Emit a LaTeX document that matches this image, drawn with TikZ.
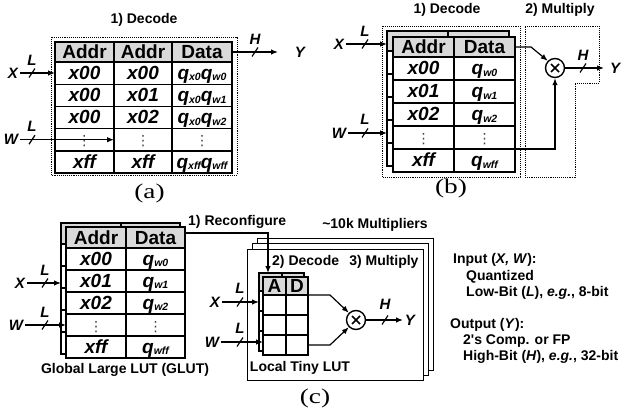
\documentclass[tikz,border=0pt]{standalone}
\usepackage{fontspec}
\setmainfont{Liberation Sans}
\newfontfamily\capfont{Liberation Serif}
\newfontfamily\djv{DejaVu Sans}
\usetikzlibrary{arrows.meta,calc}
\newcommand{\qv}[1]{q\raisebox{-1.5pt}{\fontsize{10.5}{11}\selectfont #1}}
\newcommand{\vd}{{\djv\mdseries\upshape\fontsize{14}{14}\selectfont\color{black!75}⋮}}
\newcommand{\busmark}[1]{\draw[line width=1.2pt] ($#1+(-3,4.5)$) -- ($#1+(3,-4.5)$);}
\newcommand{\capt}[1]{\scalebox{1.3}[1]{#1}}
\tikzset{
  tcell/.style={draw, line width=1.4pt, outer sep=0pt, inner sep=0pt, fill=white,
    text height=12.5pt, text depth=0pt,
    font=\fontsize{19}{21}\selectfont\bfseries\itshape},
  hcell/.style={tcell, fill=gray!30, text height=13pt, font=\fontsize{19}{21}\selectfont\bfseries},
  lbl/.style={inner sep=1pt, font=\fontsize{14}{16}\selectfont\bfseries},
  var/.style={inner sep=2pt, font=\fontsize{15}{17}\selectfont\bfseries\itshape},
  capstyle/.style={inner sep=0pt, font=\capfont\fontsize{21}{23}\selectfont},
  arr/.style={line width=1.2pt, -{Latex[length=7pt,width=5.5pt]}},
  dotbox/.style={line width=0.9pt, densely dotted},
  stackbox/.style={line width=0.9pt, fill=white},
  mult/.style={circle, draw, line width=1.4pt, minimum size=19pt, inner sep=0pt, fill=white,
    path picture={\draw[line width=1.6pt]
      ($(path picture bounding box.center)+(-4,-4)$) -- ($(path picture bounding box.center)+(4,4)$)
      ($(path picture bounding box.center)+(-4,4)$) -- ($(path picture bounding box.center)+(4,-4)$);}},
}
\begin{document}
\begin{tikzpicture}[x=1pt,y=-1pt]
\useasboundingbox (0,0) rectangle (633,415);
% ================= (a) =================
\draw[dotbox] (51,37) rectangle (237,175);
\node[lbl] (aDec) at (144,20) {1) Decode};
\foreach \c/\x/\w/\t in {1/84.5/59/Addr, 2/143/58/Addr, 3/202/60/Data}
  \node[hcell, minimum width=\w, minimum height=20] (a-0-\c) at (\x,52) {\t};
\foreach \r/\y/\ta/\tb/\tc in {1/73.1/x00/x00/{\qv{x0}\qv{w0}}, 2/95.3/x00/x01/{\qv{x0}\qv{w1}},
    3/117.5/x00/x02/{\qv{x0}\qv{w2}}, 4/139.7/{\vd}/{\vd}/{\vd}, 5/161.9/xff/xff/{\qv{xff}\qv{wff}}}{
  \node[tcell, minimum width=59, minimum height=22.2] (a-\r-1) at (84.5,\y) {\ta};
  \node[tcell, minimum width=58, minimum height=22.2] (a-\r-2) at (143,\y) {\tb};
  \node[tcell, minimum width=60, minimum height=22.2] (a-\r-3) at (202,\y) {\tc};
}
\node[var] (aX) at (13,73) {X};
\draw[arr] (aX) -- (aX -| a-1-1.west);
\node[var] (aLx) at (32,60) {L};
\busmark{(32,73)}
\node[var] (aW) at (11,139.7) {W};
\draw[arr] (aW) -- (aW -| a-4-1.east);
\node[var] (aLw) at (32,126) {L};
\busmark{(32,139.7)}
\coordinate (aYe) at (278,52);
\draw[arr] (a-0-3.east) -- (aYe);
\node[var] (aH) at (255,39) {H};
\busmark{(255,52)}
\node[var] (aY) at (300,52) {Y};
\node[capstyle] (aCap) at (149.5,193) {\capt{(a)}};
% ================= (b) =================
\draw[dotbox] (382,26) rectangle (520,177);
\draw[dotbox] (525,26) -- (599,26) -- (599,83) -- (575,83) -- (575,177) -- (525,177) -- cycle;
\node[lbl] (bDec) at (447,10) {1) Decode};
\node[lbl] (bMul) at (560,10) {2) Multiply};
\foreach \c/\x in {1/417.5, 2/478.5}{
  \node[hcell, minimum width=61, minimum height=20] (bb-0-\c) at (\x,41) {};
  \foreach \r/\y in {1/62.5, 2/85.5, 3/108.5, 4/131.5, 5/154.5}
    \node[tcell, minimum width=61, minimum height=23] (bb-\r-\c) at (\x,\y) {};
}
\node[hcell, minimum width=61, minimum height=20] (bf-0-1) at (423.5,47) {Addr};
\node[hcell, minimum width=61, minimum height=20] (bf-0-2) at (484.5,47) {Data};
\foreach \r/\y/\ta/\tb in {1/68.5/x00/{\qv{w0}}, 2/91.5/x01/{\qv{w1}}, 3/114.5/x02/{\qv{w2}},
    4/137.5/{\vd}/{\vd}, 5/160.5/xff/{\qv{wff}}}{
  \node[tcell, minimum width=61, minimum height=23] (bf-\r-1) at (423.5,\y) {\ta};
  \node[tcell, minimum width=61, minimum height=23] (bf-\r-2) at (484.5,\y) {\tb};
}
\node[var] (bX) at (339,44) {X};
\draw[arr] (bX) -- (bX -| bb-0-1.west);
\node[var] (bLx) at (365,31) {L};
\busmark{(365,44)}
\node[var] (bW) at (339,133) {W};
\draw[arr] (bW) -- (bW -| bb-4-1.west);
\node[var] (bLw) at (365,119) {L};
\busmark{(365,133)}
\node[mult] (bM) at (555,68) {};
\draw[arr] (bf-0-2.east) -- ++(16,0) -- (bM.135);
\draw[arr] (bf-4-2.south east) -- (bf-4-2.south east -| bM) -- (bM.south);
\coordinate (bYe) at (604,68);
\draw[arr] (bM) -- (bYe);
\busmark{(583,68)}
\node[var] (bH) at (583,55) {H};
\node[var] (bY) at (615,68) {Y};
\node[capstyle] (bCap) at (451,188) {\capt{(b)}};
% ================= (c) =================
% GLUT
\foreach \c/\x/\w in {1/91/60, 2/150.5/59}{
  \node[hcell, minimum width=\w, minimum height=21] (cgb-0-\c) at (\x,233.5) {};
  \foreach \r/\y in {1/255, 2/277, 3/299, 4/321, 5/343}
    \node[tcell, minimum width=\w, minimum height=22] (cgb-\r-\c) at (\x,\y) {};
}
\node[hcell, minimum width=60, minimum height=21] (cg-0-1) at (96,237.5) {Addr};
\node[hcell, minimum width=59, minimum height=21] (cg-0-2) at (155.5,237.5) {Data};
\foreach \r/\y/\ta/\tb in {1/259/x00/{\qv{w0}}, 2/281/x01/{\qv{w1}}, 3/303/x02/{\qv{w2}},
    4/325/{\vd}/{\vd}, 5/347/xff/{\qv{wff}}}{
  \node[tcell, minimum width=60, minimum height=22] (cg-\r-1) at (96,\y) {\ta};
  \node[tcell, minimum width=59, minimum height=22] (cg-\r-2) at (155.5,\y) {\tb};
}
\node[lbl] (cGl) at (125,370) {Global Large LUT (GLUT)};
\node[var] (cgX) at (20,283) {X};
\draw[arr] (cgX) -- (cgX -| cgb-2-1.west);
\node[var] (cgLx) at (45,270) {L};
\busmark{(45,283)}
\node[var] (cgW) at (16,325) {W};
\draw[arr] (cgW) -- (cg-4-1.west);
\node[var] (cgLw) at (45,312) {L};
\busmark{(45,325)}
% stack of local LUTs
\draw[stackbox] (257,238) rectangle (433,370);
\draw[stackbox] (252,243) rectangle (428,375);
\draw[stackbox] (247,249) rectangle (423,380);
\node[lbl] (cTen) at (375,225) {\textasciitilde10k Multipliers};
\node[lbl, anchor=west] (cDM) at (271,262) {2) Decode\hspace{0.45em} 3) Multiply};
\node[lbl] (cLoc) at (300,368) {Local Tiny LUT};
% tiny LUT
\foreach \c/\x/\w in {1/270.5/23, 2/293/22}{
  \node[hcell, minimum width=\w, minimum height=18] (ctb-0-\c) at (\x,282) {};
  \foreach \r/\y in {1/301, 2/321, 3/341}
    \node[tcell, minimum width=\w, minimum height=20] (ctb-\r-\c) at (\x,\y) {};
}
\node[hcell, minimum width=23, minimum height=18] (ct-0-1) at (274.5,286) {A};
\node[hcell, minimum width=22, minimum height=18] (ct-0-2) at (297,286) {D};
\foreach \r/\y in {1/305, 2/325, 3/345}{
  \node[tcell, minimum width=23, minimum height=20] (ct-\r-1) at (274.5,\y) {};
  \node[tcell, minimum width=22, minimum height=20] (ct-\r-2) at (297,\y) {};
}
\node[lbl, anchor=west] (cRec) at (187,222) {1) Reconfigure};
\draw[arr] ($(cg-0-2.north east)+(0,6)$) -| ($(ctb-0-1.north west)+(9,0)$);
\node[var] (ctX) at (215,302) {X};
\draw[arr] (ctX) -- (ctX -| ctb-1-1.west);
\node[var] (ctLx) at (240,288) {L};
\busmark{(240,302)}
\node[var] (ctW) at (212,342) {W};
\draw[arr] (ctW) -- (ctW -| ct-3-1.west);
\node[var] (ctLw) at (240,328) {L};
\busmark{(240,342)}
\node[mult] (cM) at (356,320) {};
\draw[arr] (ct-0-2.south east) -- ++(22,0) -- (cM.135);
\draw[arr] (ct-3-2.east) -- ++(22,0) -- (cM.225);
\coordinate (cYe) at (403,320);
\draw[arr] (cM) -- (cYe);
\busmark{(385,320)}
\node[var] (cH) at (385,304) {H};
\node[var] (cY) at (410,320) {Y};
\node[capstyle] (cCap) at (315,398) {\capt{(c)}};
% notes
\node[lbl, anchor=west] (n1) at (452,260) {Input (\textit{X, W}):};
\node[lbl, anchor=west] (n2) at (465,277) {Quantized};
\node[lbl, anchor=west] (n3) at (465,293) {Low-Bit (\textit{L}), \textit{e.g.}, 8-bit};
\node[lbl, anchor=west] (n4) at (449,325) {Output (\textit{Y}):};
\node[lbl, anchor=west] (n5) at (462,341) {2\textquotesingle s Comp. or FP};
\node[lbl, anchor=west] (n6) at (462,357) {High-Bit (\textit{H}), \textit{e.g.}, 32-bit};
\end{tikzpicture}
\end{document}
